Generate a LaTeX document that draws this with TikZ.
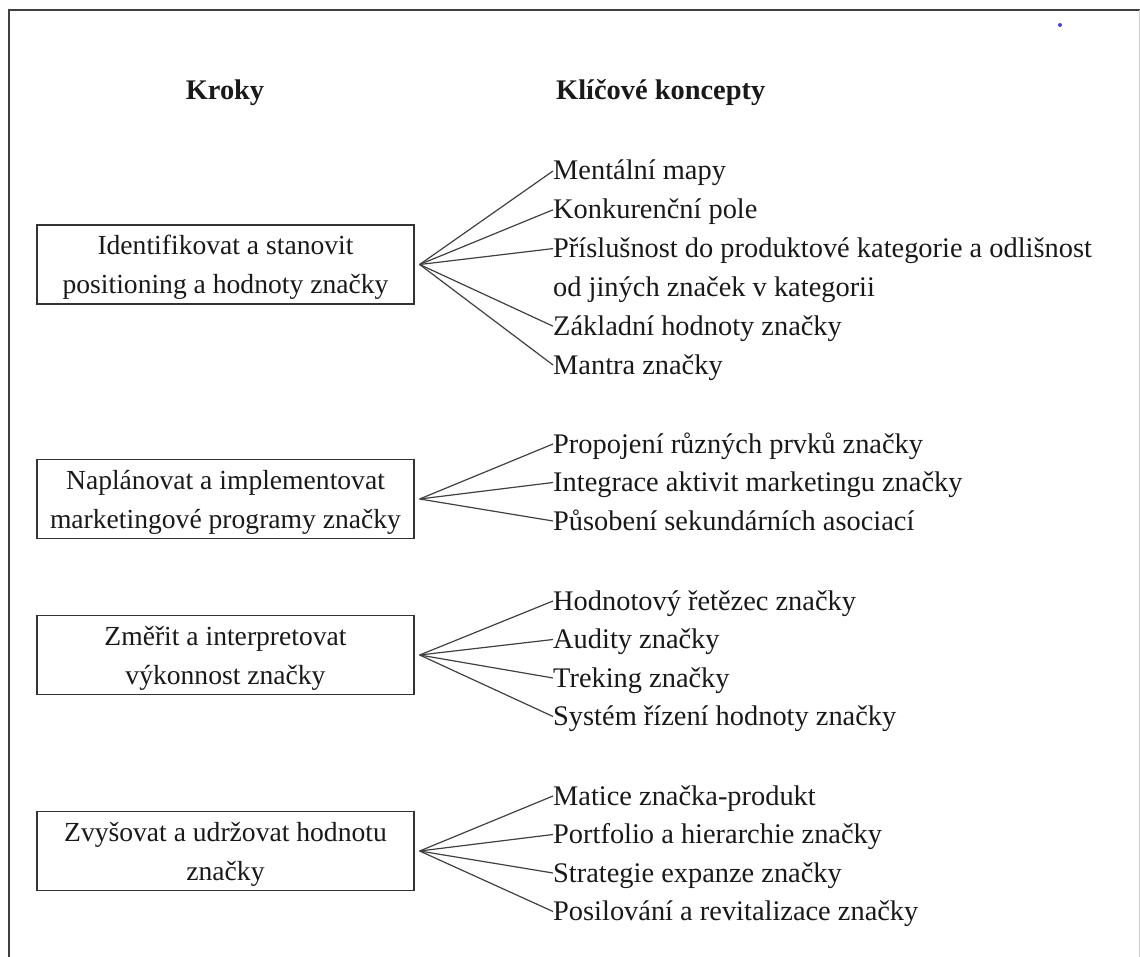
\documentclass[tikz,border=0pt]{standalone}
\usepackage{fontspec}
\setmainfont{Liberation Serif}
\begin{document}
\begin{tikzpicture}[x=1pt,y=-1pt,
  every node/.style={font=\fontsize{28.4}{38.7}\selectfont, text=black!90},
  stepbox/.style={draw=black!80, line width=1.3pt, minimum width=377pt,
    minimum height=79pt, text width=372pt, align=flush center, inner sep=0pt,
    font=\fontsize{27.6}{38.7}\selectfont,
    execute at begin node={\rule{0pt}{25.7pt}},
    execute at end node={\rule[-6pt]{0pt}{6pt}}},
  item/.style={anchor=base west, inner sep=0pt},
  head/.style={font=\fontsize{28.4}{38.7}\selectfont\bfseries},
  link/.style={draw=black!75, line width=1.2pt}]
\useasboundingbox (0,0) rectangle (1140,957);

% outer frame (bottom edge lies below the page)
\draw[black!75, line width=1.6pt] (9,980) -- (9,10) -- (1140,10);
\draw[black!20, line width=1pt] (1139,10) -- (1139,980);
\fill[blue!75] (1060,25) circle (2);

% column headings
\node[head, anchor=base] (hSteps) at (225,100) {Kroky};
\node[head, anchor=base west, inner sep=0pt] (hConc) at (556,100) {Klíčové koncepty};

% steps
\node[stepbox] (s1) at (225.5,264.5) {Identifikovat a stanovit\\positioning a hodnoty značky};
\node[stepbox] (s2) at (225.5,499) {Naplánovat a implementovat\\marketingové programy značky};
\node[stepbox] (s3) at (225.5,655) {Změřit a interpretovat\\výkonnost značky};
\node[stepbox] (s4) at (225.5,851) {Zvyšovat a udržovat hodnotu\\značky};

\foreach \i in {1,...,4} {
  \coordinate (h\i) at ([xshift=5pt]s\i.east);
}

% key concepts (placed by baseline)
\node[item] (a1) at (553,180) {Mentální mapy};
\node[item] (a2) at (553,218.8) {Konkurenční pole};
\node[item] (a3) at (553,257.6) {Příslušnost do produktové kategorie a odlišnost};
\node[item] (a3b) at (553,296.4) {od jiných značek v kategorii};
\node[item] (a4) at (553,335.2) {Základní hodnoty značky};
\node[item] (a5) at (553,374) {Mantra značky};

\node[item] (b1) at (553,453) {Propojení různých prvků značky};
\node[item] (b2) at (553,491.5) {Integrace aktivit marketingu značky};
\node[item] (b3) at (553,530) {Působení sekundárních asociací};

\node[item] (c1) at (553,610) {Hodnotový řetězec značky};
\node[item] (c2) at (553,648.5) {Audity značky};
\node[item] (c3) at (553,687) {Treking značky};
\node[item] (c4) at (553,725.5) {Systém řízení hodnoty značky};

\node[item] (d1) at (553,805) {Matice značka-produkt};
\node[item] (d2) at (553,843.5) {Portfolio a hierarchie značky};
\node[item] (d3) at (553,882) {Strategie expanze značky};
\node[item] (d4) at (553,920.5) {Posilování a revitalizace značky};

% fans from each step to its concepts
\foreach \t in {a1,a2,a3,a4,a5} \draw[link] (h1) -- ([yshift=9pt]\t.base west);
\foreach \t in {b1,b2,b3} \draw[link] (h2) -- ([yshift=9pt]\t.base west);
\foreach \t in {c1,c2,c3,c4} \draw[link] (h3) -- ([yshift=9pt]\t.base west);
\foreach \t in {d1,d2,d3,d4} \draw[link] (h4) -- ([yshift=9pt]\t.base west);
\end{tikzpicture}
\end{document}
